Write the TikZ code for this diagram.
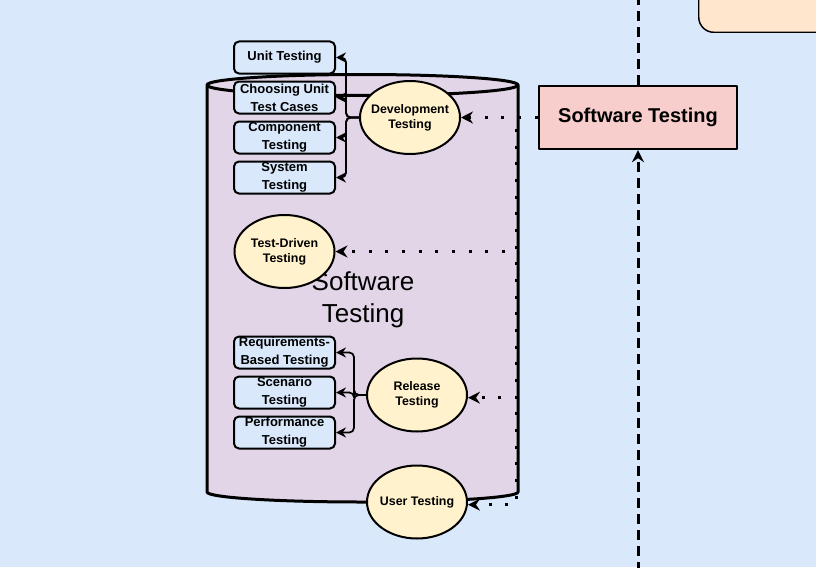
\documentclass[tikz,border=0pt]{standalone}
\usepackage{fontspec}
\setmainfont{Liberation Sans}
\usepackage[usenames,dvipsnames]{xcolor}
\usetikzlibrary{positioning,shapes.geometric,arrows.meta}

\definecolor{bgblue}{HTML}{DAE8FC}
\definecolor{cylpurple}{HTML}{E1D5E7}
\definecolor{phaseyellow}{HTML}{FFF2CC}
\definecolor{rootred}{HTML}{F8CECC}
\definecolor{notepeach}{HTML}{FFE6CC}

\begin{document}
\begin{tikzpicture}[x=0.75pt,y=-0.75pt,on grid,node distance=30pt,line join=round]
  \tikzstyle{leaf}=[draw,line width=1.5pt,rounded corners=3.75pt,fill=bgblue,minimum width=75.75pt,minimum height=24pt,inner sep=0pt,align=center,font=\fontsize{9.75}{13.6}\selectfont\bfseries]
  \tikzstyle{phase}=[ellipse,draw,line width=1.5pt,fill=phaseyellow,minimum width=75pt,minimum height=54.75pt,inner ysep=0pt,inner xsep=-4pt,align=center,font=\fontsize{9.3}{11.5}\selectfont\bfseries]
  \tikzstyle{branch}=[line width=1.3pt,rounded corners=3.5pt,-{Stealth[length=7.5pt,width=7.5pt,inset=2.5pt]}]
  \tikzstyle{feed}=[line width=2.25pt,dash pattern=on 2.25pt off 10.25pt,-{Stealth[length=9pt,width=9pt,inset=3pt]}]
  \tikzstyle{lane}=[line width=2.25pt,dash pattern=on 7.5pt off 4.5pt]
  \tikzstyle{cyl}=[line width=2.25pt,fill=cylpurple]

  % page
  \fill[bgblue] (0,0) rectangle (816,567);
  \useasboundingbox (0,0) rectangle (816,567);

  % corner note, cut by the page
  \node[draw,line width=1.1pt,fill=notepeach,rounded corners=11.25pt,minimum width=99pt,minimum height=45pt,anchor=south west] (note) at (698,33) {};

  % root and swimlane
  \coordinate (top) at (638,-5);
  \coordinate (bottom) at (638,572);
  \node[draw,line width=1.8pt,fill=rootred,minimum width=148.5pt,minimum height=47.25pt,font=\fontsize{15}{18}\selectfont\bfseries] (Soft) at (638,117.5) {Software Testing};
  \draw[lane] (Soft.north) -- (top);
  \draw[lane,-{Stealth[length=9pt,width=9pt,inset=3pt]}] (bottom) -- (Soft.south);

  % the cylinder
  \filldraw[cyl] (207,85) -- (207,492) arc[start angle=180,end angle=0,x radius=155.5,y radius=10]
    -- (518,85) arc[start angle=0,end angle=-180,x radius=155.5,y radius=10.5] -- cycle;
  \draw[line width=2.25pt] (207,85) arc[start angle=180,end angle=0,x radius=155.5,y radius=10.5];
  \node[align=center,font=\fontsize{19.5}{24}\selectfont] (title) at (363,300) {Software\\Testing};

  % phases
  \node[phase] (Dev) at (410,117.5) {Development\\Testing};
  \node[phase] (TDD) at (284.5,251.5) {Test-Driven\\Testing};
  \node[phase] (Rel) at (417,395) {Release\\Testing};
  \node[phase] (User) [below=80.25pt of Rel] {User Testing};

  % development leaves
  \node[leaf] (Unit) at (284.5,57.5) {Unit Testing};
  \node[leaf] (Choose) [below=of Unit] {Choosing Unit\\Test Cases};
  \node[leaf] (Comp) [below=of Choose] {Component\\Testing};
  \node[leaf] (Sys) [below=of Comp] {System\\Testing};

  % release leaves
  \node[leaf] (Req) at (284.5,352.5) {Requirements-\\Based Testing};
  \node[leaf] (Scen) [below=of Req] {Scenario\\Testing};
  \node[leaf] (Perf) [below=of Scen] {Performance\\Testing};

  \draw[branch] (Dev.west) -- ++(-13,0) |- (Unit.east);
  \draw[branch] (Dev.west) -- ++(-13,0) |- (Choose.east);
  \draw[branch] (Dev.west) -- ++(-13,0) |- (Comp.east);
  \draw[branch] (Dev.west) -- ++(-13,0) |- (Sys.east);
  \draw[branch] (Rel.west) -- ++(-12,0) |- (Req.east);
  \draw[branch] (Rel.west) -- ++(-12,0) |- (Scen.east);
  \draw[branch] (Rel.west) -- ++(-12,0) |- (Perf.east);

  % dotted feeds from the root
  \coordinate (rail) at (516,117.5);
  \draw[feed] (Soft.west) -- (Dev.east);
  \draw[feed] (Soft.west) -- (rail) |- (TDD.east);
  \draw[feed] (Soft.west) -- (rail) |- ([yshift=-2pt]Rel.east);
  \draw[feed] (Soft.west) -- (rail) |- ([yshift=-2pt]User.east);
\end{tikzpicture}
\end{document}
